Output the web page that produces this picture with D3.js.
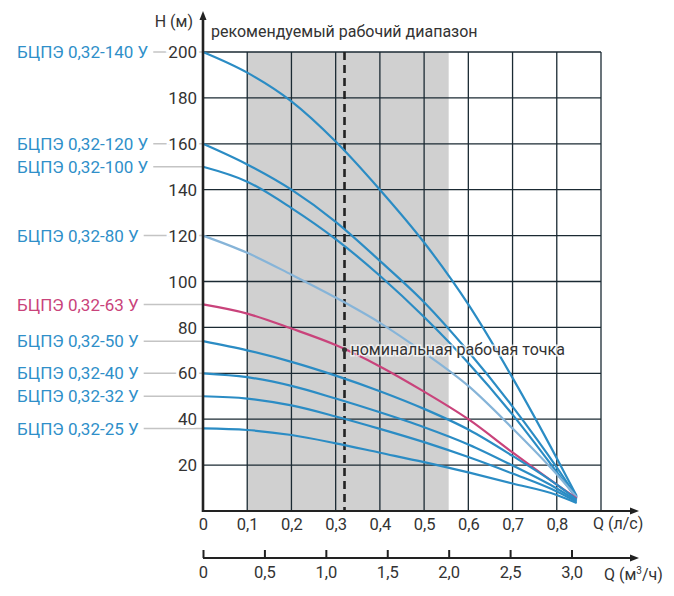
<!DOCTYPE html>
<html>
<head>
<meta charset="utf-8">
<script src="https://cdn.jsdelivr.net/npm/d3@7"></script>
<style>
  body { margin: 0; background: #fff; }
  svg { display: block; font-family: Roboto, "Noto Sans", sans-serif; }
</style>
</head>
<body>
<svg id="chart" width="674" height="596"></svg>
<script>
const flowPoints = [0, 0.1, 0.2, 0.3, 0.4, 0.5, 0.6, 0.7, 0.8, 0.845];

const pumpNames = [
  "БЦПЭ 0,32-140 У", "БЦПЭ 0,32-120 У", "БЦПЭ 0,32-100 У",
  "БЦПЭ 0,32-80 У", "БЦПЭ 0,32-63 У", "БЦПЭ 0,32-50 У",
  "БЦПЭ 0,32-40 У", "БЦПЭ 0,32-32 У", "БЦПЭ 0,32-25 У"
];

// head H (m) of each pump at the flowPoints
const headValues = [
  [200, 191, 178.5, 161, 140, 117, 90, 58, 23, 6.5],
  [160, 151, 140, 126, 109, 91, 69.5, 45.5, 19, 6],
  [150, 143.5, 132, 118.5, 102.5, 84.5, 64.5, 42, 17, 5.5],
  [120, 112.5, 103, 93, 82, 69, 54.5, 36, 16, 6],
  [90, 86, 79.5, 72.3, 63, 52, 40, 25.5, 11.5, 5.5],
  [74, 70, 65, 59, 52.2, 44.5, 35.5, 24, 11.5, 5],
  [60, 58.3, 54.5, 49, 43, 36.5, 29, 19.8, 9.8, 4.5],
  [50, 49, 46, 41.2, 35.8, 30, 23.5, 16.3, 8.5, 4],
  [36, 35.3, 33.1, 29.5, 25.4, 21.3, 16.8, 12, 7, 3.5]
];

const pumpColors = [
  "#2b8cc4", "#2b8cc4", "#2b8cc4", "#86b4d8", "#c9437b",
  "#2b8cc4", "#2b8cc4", "#2b8cc4", "#2b8cc4"
];
const labelColors = [
  "#2f8fc9", "#2f8fc9", "#2f8fc9", "#2f8fc9", "#c9437b",
  "#2f8fc9", "#2f8fc9", "#2f8fc9", "#2f8fc9"
];

const headTicks = [20, 40, 60, 80, 100, 120, 140, 160, 180, 200];
const flowTicks = [0, 0.1, 0.2, 0.3, 0.4, 0.5, 0.6, 0.7, 0.8];
const flowTicksM3 = [0, 0.5, 1.0, 1.5, 2.0, 2.5, 3.0];
const gridFlows = [0.1, 0.2, 0.3, 0.4, 0.5, 0.6, 0.7, 0.8, 0.9];

const recommendedRange = [0.1, 2.0 / 3.6]; // l/s
const nominalFlow = 0.32;
const nominalHead = 70.3;

function main() {
  const svg = d3.select("#chart");
  const x = d3.scaleLinear().domain([0, 0.9]).range([203, 601]);
  const x2 = d3.scaleLinear().domain([0, 0.9 * 3.6]).range([203, 601]);
  const y = d3.scaleLinear().domain([0, 200]).range([511, 52]);

  drawBackground(svg, x, y);
  drawCurves(svg, x, y);
  drawAxes(svg, x, x2, y);
  drawLabels(svg, x, y);
}

function commaFmt(d, digits) {
  return d === 0 ? "0" : d3.format("." + digits + "f")(d).replace(".", ",");
}

function drawBackground(svg, x, y) {
  svg.append("rect")
    .attr("x", x(recommendedRange[0]))
    .attr("y", y(200))
    .attr("width", x(recommendedRange[1]) - x(recommendedRange[0]))
    .attr("height", y(0) - y(200))
    .attr("fill", "#d0d0d0");

  const grid = svg.append("g")
    .attr("stroke", "#1b2a33")
    .attr("stroke-width", 1.3);

  grid.selectAll("line.h")
    .data(headTicks)
    .join("line")
    .attr("class", "h")
    .attr("x1", x(0)).attr("x2", x(0.9))
    .attr("y1", d => y(d)).attr("y2", d => y(d));

  grid.selectAll("line.v")
    .data(gridFlows)
    .join("line")
    .attr("class", "v")
    .attr("x1", d => x(d)).attr("x2", d => x(d))
    .attr("y1", y(200)).attr("y2", y(0));

  svg.append("line")
    .attr("x1", x(nominalFlow)).attr("x2", x(nominalFlow))
    .attr("y1", y(200)).attr("y2", y(0))
    .attr("stroke", "#222")
    .attr("stroke-width", 2.6)
    .attr("stroke-dasharray", "8,5");
}

function drawCurves(svg, x, y) {
  const line = d3.line()
    .x((d, i) => x(flowPoints[i]))
    .y(d => y(d))
    .curve(d3.curveMonotoneX);

  svg.append("g")
    .attr("fill", "none")
    .attr("stroke-width", 2.2)
    .selectAll("path")
    .data(headValues)
    .join("path")
    .attr("stroke", (d, i) => pumpColors[i])
    .attr("d", line);
}

function drawAxes(svg, x, x2, y) {
  // main Q axis (l/s)
  const ax = svg.append("g")
    .attr("transform", `translate(0,${y(0)})`)
    .call(d3.axisBottom(x).tickValues(flowTicks).tickSize(0).tickPadding(7)
      .tickFormat(d => commaFmt(d, 1)));
  ax.select(".domain").remove();
  ax.selectAll("text").attr("font-size", 16.5).attr("fill", "#333").attr("font-family", "Roboto");

  // second Q axis (m3/h)
  const axisY2 = 558;
  const ax2 = svg.append("g")
    .attr("transform", `translate(0,${axisY2})`)
    .call(d3.axisBottom(x2).tickValues(flowTicksM3).tickSize(0).tickPadding(8)
      .tickFormat(d => commaFmt(d, 1)));
  ax2.select(".domain").remove();
  ax2.selectAll("text").attr("font-size", 16.5).attr("fill", "#333").attr("font-family", "Roboto");
  ax2.selectAll(".tick").append("line")
    .attr("y1", -8).attr("y2", 0)
    .attr("stroke", "#222").attr("stroke-width", 2);

  // axis lines with arrows
  const axes = svg.append("g").attr("stroke", "#222");
  axes.append("line").attr("x1", x(0)).attr("x2", 633)
    .attr("y1", y(0)).attr("y2", y(0)).attr("stroke-width", 2);
  axes.append("line").attr("x1", x(0)).attr("x2", 633)
    .attr("y1", axisY2).attr("y2", axisY2).attr("stroke-width", 2);
  axes.append("line").attr("x1", x(0)).attr("x2", x(0))
    .attr("y1", y(0) + 1).attr("y2", 17).attr("stroke-width", 2.6);

  const arrows = svg.append("g").attr("fill", "#222");
  arrows.append("path").attr("d", `M${x(0) - 3.5},20L${x(0)},11L${x(0) + 3.5},20Z`);
  [y(0), axisY2].forEach(yy => {
    arrows.append("path").attr("d", `M630,${yy - 3.5}L639,${yy}L630,${yy + 3.5}Z`);
  });

  // head axis labels
  svg.append("g")
    .selectAll("text")
    .data(headTicks)
    .join("text")
    .attr("x", 197)
    .attr("y", d => y(d))
    .attr("dy", "0.36em")
    .attr("text-anchor", "end")
    .attr("font-size", 17)
    .attr("fill", "#333")
    .attr("stroke", "#fff")
    .attr("stroke-width", 6)
    .attr("paint-order", "stroke")
    .text(d => d);

  svg.append("text")
    .attr("x", 193).attr("y", 27)
    .attr("text-anchor", "end")
    .attr("font-size", 16).attr("fill", "#333")
    .text("H (м)");

  svg.append("text")
    .attr("x", 593).attr("y", y(0) + 18)
    .attr("font-size", 16).attr("fill", "#333")
    .text("Q (л/с)");

  const q2 = svg.append("text")
    .attr("x", 604).attr("y", axisY2 + 22)
    .attr("font-size", 16).attr("fill", "#333");
  q2.append("tspan").text("Q (м");
  q2.append("tspan").attr("font-size", 10).attr("dy", -6).text("3");
  q2.append("tspan").attr("dy", 6).text("/ч)");
}

function drawLabels(svg, x, y) {
  const labels = svg.append("g");
  pumpNames.forEach((name, i) => {
    const yy = y(headValues[i][0]);
    const t = labels.append("text")
      .attr("x", 17).attr("y", yy)
      .attr("dy", "0.36em")
      .attr("font-size", 17)
      .attr("fill", labelColors[i])
      .text(name);
    const w = t.node().getComputedTextLength();
    labels.insert("line", ":first-child")
      .attr("x1", 17 + w + 5).attr("x2", x(0))
      .attr("y1", yy).attr("y2", yy)
      .attr("stroke", "#c4c4c4")
      .attr("stroke-width", 1.5);
  });
  labels.lower();

  svg.append("text")
    .attr("x", 211).attr("y", 37)
    .attr("font-size", 16).attr("fill", "#333")
    .text("рекомендуемый рабочий диапазон");

  svg.append("circle")
    .attr("cx", x(nominalFlow)).attr("cy", y(nominalHead))
    .attr("r", 2.5).attr("fill", "#333");

  svg.append("text")
    .attr("x", x(nominalFlow) + 6).attr("y", y(nominalHead))
    .attr("dy", "0.36em")
    .attr("font-size", 16).attr("fill", "#333")
    .attr("stroke", "#fff").attr("stroke-width", 3).attr("stroke-opacity", 0.7)
    .attr("paint-order", "stroke")
    .text("номинальная рабочая точка");
}

main();
</script>
</body>
</html>
